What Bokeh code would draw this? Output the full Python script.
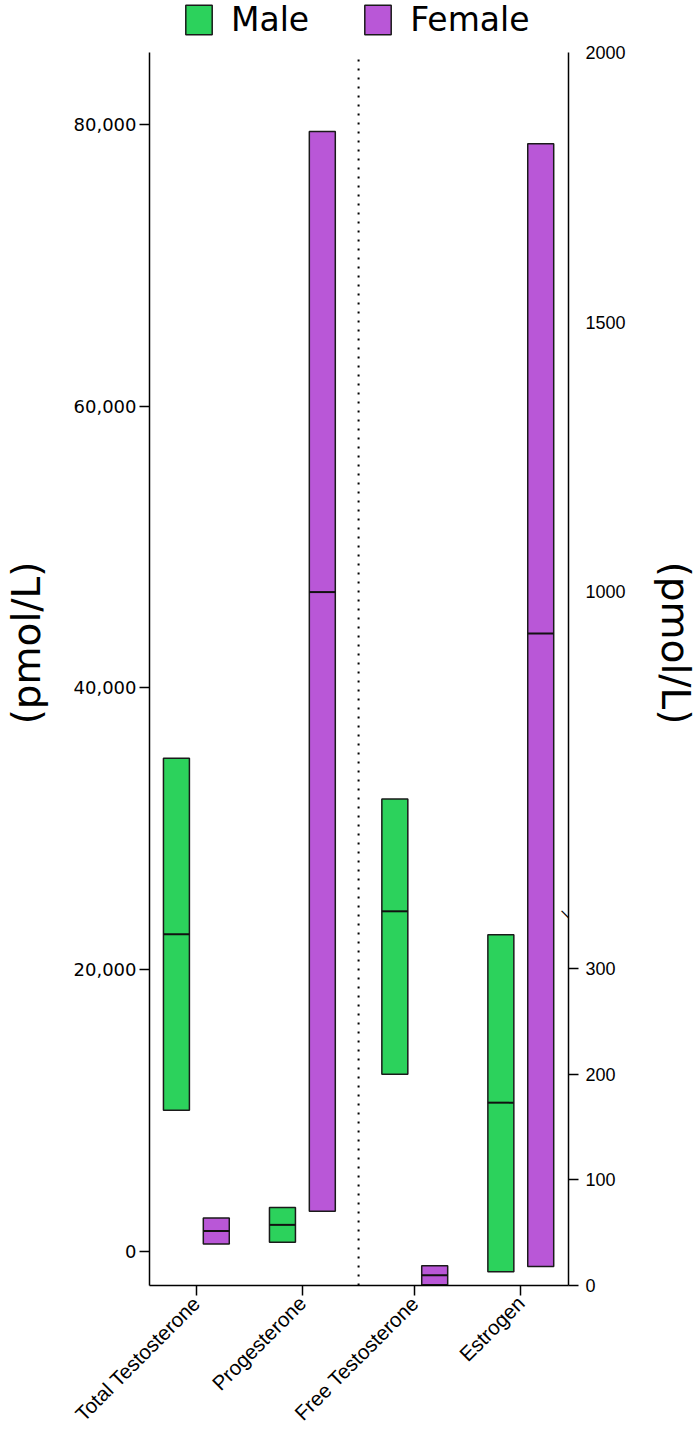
import numpy as np
from math import pi
from bokeh.plotting import figure
from bokeh.models import (Range1d, LinearAxis, FixedTicker, NumeralTickFormatter,
                          Legend, LegendItem, ColumnDataSource, Label)
from bokeh.embed import file_html
from bokeh.resources import INLINE

# ---------------- data (pmol/L) ----------------
categories = ["Total Testosterone", "Progesterone", "Free Testosterone", "Estrogen"]
axis_side = ["left", "left", "right", "right"]

male_min = [10000, 640, 200, 13]
male_median = [22500, 1870, 408, 173]
male_max = [35000, 3100, 616, 332]

female_min = [520, 2840, 0.7, 18]
female_median = [1440, 46800, 9.8, 923]
female_max = [2350, 79500, 18.7, 1831]

left_ticks = [0, 20000, 40000, 60000, 80000]
right_ticks_low = [0, 100, 200, 300]
right_ticks_high = [1000, 1500, 2000]
y_title = "(pmol/L)"

# ---------------- layout / style ----------------
group_pos = [0.0, 1.0, 2.06, 3.06]
offset = 0.188
bar_w = 0.245
MALE_COLOR = "#2CD25C"
FEMALE_COLOR = "#B957D7"

# left axis extent (data) and the headroom above it that holds the legend
L_START, L_AXIS_TOP, L_END = -2435, 85112, 88804
# broken right axis: 0..350 on lower 30 %, 400..2000 on upper 70 %
R_LOW_MAX, R_HIGH_MIN, R_MAX, BREAK_FRAC = 350.0, 400.0, 2000.0, 0.30
R_END = 1.0422


def rscale(v):
    v = np.asarray(v, dtype=float)
    low = v / R_LOW_MAX * BREAK_FRAC
    high = BREAK_FRAC + (v - R_HIGH_MIN) / (R_MAX - R_HIGH_MIN) * (1 - BREAK_FRAC)
    return np.where(v <= R_LOW_MAX, low, np.where(v >= R_HIGH_MIN, high, BREAK_FRAC))


FRAME_H = 1285
p = figure(width=700, height=1437, output_backend="svg", toolbar_location=None,
           x_range=Range1d(-0.442, 3.51), y_range=Range1d(L_START, L_END),
           min_border_left=148, min_border_right=132, min_border_top=0,
           min_border_bottom=152)
p.extra_y_ranges = {"right": Range1d(0, R_END)}
p.outline_line_color = None
p.xgrid.visible = False
p.ygrid.visible = False
p.background_fill_color = "white"
p.border_fill_color = "white"

renderers = {}
for sex, mins, meds, maxs, off, color in [
        ("Male", male_min, male_median, male_max, -offset, MALE_COLOR),
        ("Female", female_min, female_median, female_max, offset, FEMALE_COLOR)]:
    for side in ("left", "right"):
        idx = [i for i, s in enumerate(axis_side) if s == side]
        x = np.array([group_pos[i] for i in idx]) + off
        lo = np.array([mins[i] for i in idx], dtype=float)
        md = np.array([meds[i] for i in idx], dtype=float)
        hi = np.array([maxs[i] for i in idx], dtype=float)
        kw = {}
        if side == "right":
            lo, md, hi = rscale(lo), rscale(md), rscale(hi)
            kw["y_range_name"] = "right"
        src = ColumnDataSource(dict(x=x, lo=lo, md=md, hi=hi,
                                    x0=x - bar_w / 2, x1=x + bar_w / 2))
        r = p.vbar(x="x", width=bar_w, bottom="lo", top="hi", source=src,
                   fill_color=color, line_color="#1a1a1a", line_width=1.5, **kw)
        p.segment(x0="x0", x1="x1", y0="md", y1="md", source=src,
                  line_color="#111111", line_width=2, **kw)
        if side == "left":
            renderers[sex] = r

# dotted separator between the two axis groups
sep = (group_pos[1] + group_pos[2]) / 2
p.segment(x0=[sep], x1=[sep], y0=[L_START], y1=[L_AXIS_TOP],
          line_color="black", line_width=2, line_dash="2 7")

# ---------------- axes ----------------
yl = p.yaxis[0]
yl.bounds = (L_START, L_AXIS_TOP)
yl.ticker = FixedTicker(ticks=left_ticks)
yl.formatter = NumeralTickFormatter(format="0,0")
yl.major_tick_out = 10
yl.major_tick_in = 0
yl.minor_tick_line_color = None
yl.major_label_standoff = 3
yl.major_label_text_font = "DejaVu Sans"
yl.major_label_text_font_size = "18px"
yl.major_label_text_color = "black"
yl.axis_line_color = "black"
yl.axis_line_width = 1.5
yl.major_tick_line_width = 1.5
yl.axis_label = y_title
yl.axis_label_text_font = "DejaVu Sans"
yl.axis_label_text_font_size = "39px"
yl.axis_label_text_font_style = "normal"
yl.axis_label_text_color = "black"
yl.axis_label_standoff = 22

xa = p.xaxis[0]
xa.ticker = FixedTicker(ticks=group_pos)
xa.major_label_overrides = {g: c for g, c in zip(group_pos, categories)}
xa.major_label_orientation = pi / 4
xa.major_tick_out = 10
xa.major_tick_in = 0
xa.minor_tick_line_color = None
xa.major_label_text_font = "Liberation Sans"
xa.major_label_text_font_size = "20.5px"
xa.major_label_text_color = "black"
xa.major_label_standoff = 4
xa.axis_line_width = 1.5
xa.major_tick_line_width = 1.5

major_vals = right_ticks_low + right_ticks_high
major_fr = [round(float(f), 6) for f in rscale(major_vals)]
minor_fr = [round(float(f), 6) for f in rscale(right_ticks_low)]
yr = LinearAxis(y_range_name="right", bounds=(0, 1),
                ticker=FixedTicker(ticks=major_fr, minor_ticks=minor_fr),
                major_label_overrides={f: str(v) for f, v in zip(major_fr, major_vals)})
yr.major_tick_line_color = None
yr.major_tick_out = 10
yr.major_tick_in = 0
yr.minor_tick_out = 10
yr.minor_tick_in = 0
yr.minor_tick_line_color = "black"
yr.minor_tick_line_width = 1.5
yr.major_label_standoff = 7
yr.major_label_text_font = "Liberation Sans"
yr.major_label_text_font_size = "18px"
yr.major_label_text_color = "black"
yr.axis_line_width = 1.5
yr.axis_label = y_title
yr.axis_label_text_font = "DejaVu Sans"
yr.axis_label_text_font_size = "39px"
yr.axis_label_text_font_style = "normal"
yr.axis_label_text_color = "black"
yr.axis_label_standoff = 24
p.add_layout(yr, "right")

# axis-break mark on the right axis
p.add_layout(Label(x=p.x_range.end, y=BREAK_FRAC, y_range_name="right",
                   text="\u2014", angle=-pi / 4, text_align="center",
                   text_baseline="middle", text_font="DejaVu Sans",
                   text_font_size="18px", text_color="black"))

# ---------------- legend ----------------
legend = Legend(items=[LegendItem(label="Male", renderers=[renderers["Male"]]),
                       LegendItem(label="Female", renderers=[renderers["Female"]])],
                orientation="horizontal", location=(33, FRAME_H - 39),
                glyph_width=33, glyph_height=37, label_standoff=16, spacing=52,
                label_text_font="DejaVu Sans", label_text_font_size="33px",
                label_text_color="black",
                border_line_color=None, background_fill_alpha=0,
                padding=0, margin=0)
p.add_layout(legend, "center")

open("out.html", "w").write(file_html(p, INLINE))
